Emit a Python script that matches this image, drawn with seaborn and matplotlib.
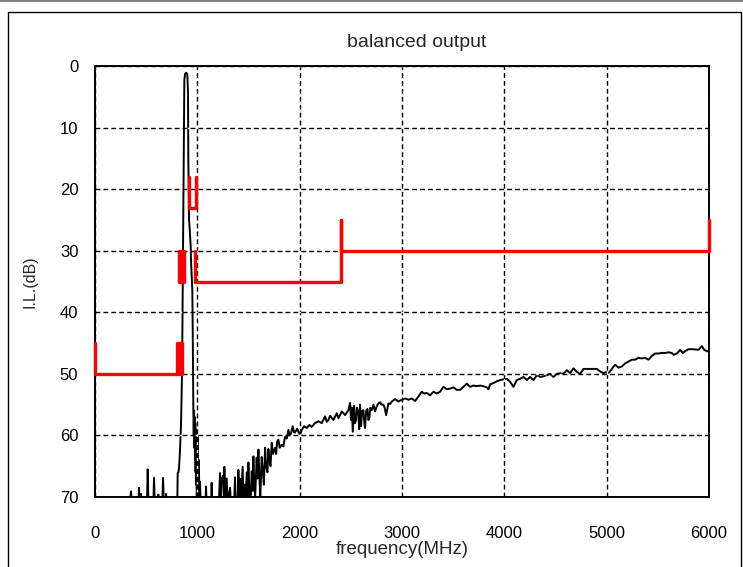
import matplotlib
matplotlib.use("Agg")
import matplotlib.pyplot as plt
import seaborn as sns
import pandas as pd
from matplotlib.patches import Rectangle
from matplotlib.lines import Line2D

# ---------------- data ----------------
trace_freq = [0, 340, 352, 360, 425, 430, 436, 445, 450, 456, 508, 515, 522, 570, 577, 584,
              612, 619, 626, 658, 665, 672, 690, 694, 698, 795, 805, 808, 815, 821, 831, 841,
              851, 857, 863, 870, 873, 880, 890, 902, 909, 912, 919, 926, 935, 938, 945, 951,
              955, 961, 965, 968, 971, 974, 977, 980, 983, 986, 989, 992, 995, 998, 1001, 1005,
              1010, 1015, 1020, 1026, 1032, 1080, 1085, 1090, 1135, 1140, 1146, 1210, 1222, 1230,
              1240, 1255, 1260, 1264, 1272, 1287, 1295, 1320, 1328, 1360, 1368, 1375, 1395, 1401,
              1408, 1415, 1425, 1443, 1450, 1460, 1470, 1483, 1490, 1499, 1508, 1520, 1532, 1540,
              1548, 1556, 1565, 1580, 1588, 1597, 1605, 1615, 1629, 1640, 1650, 1662, 1672, 1685,
              1694, 1705, 1715, 1727, 1740, 1760, 1770, 1780, 1792, 1805, 1825, 1841, 1857, 1874,
              1890, 1900, 1913, 1932, 1945, 1955, 1977, 1990, 2004, 2020, 2043, 2069, 2095, 2118,
              2150, 2183, 2216, 2248, 2265, 2281, 2297, 2330, 2362, 2380, 2411, 2444, 2476, 2493,
              2502, 2510, 2519, 2532, 2540, 2551, 2560, 2574, 2582, 2590, 2600, 2610, 2623, 2632,
              2639, 2650, 2662, 2672, 2681, 2690, 2705, 2721, 2737, 2753, 2769, 2786, 2800, 2818,
              2830, 2845, 2867, 2883, 2900, 2932, 2965, 2998, 3030, 3063, 3096, 3128, 3160, 3193,
              3216, 3242, 3275, 3307, 3340, 3372, 3405, 3438, 3470, 3503, 3535, 3568, 3600, 3633,
              3666, 3698, 3731, 3763, 3796, 3829, 3845, 3861, 3894, 3927, 3959, 3992, 4024, 4057,
              4089, 4122, 4154, 4187, 4220, 4252, 4285, 4318, 4350, 4383, 4415, 4448, 4480, 4513,
              4545, 4578, 4611, 4643, 4676, 4709, 4741, 4774, 4839, 4904, 4936, 4969, 4995, 5018,
              5050, 5083, 5115, 5148, 5181, 5213, 5246, 5278, 5311, 5343, 5376, 5409, 5441, 5474,
              5506, 5538, 5571, 5604, 5636, 5653, 5686, 5718, 5744, 5767, 5800, 5848, 5897, 5930,
              5953, 5979, 6000]
trace_db = [71, 71, 69.1, 71, 71, 68.5, 71, 71, 69.5, 71, 71, 65.5, 71, 71, 66.9, 71,
            71, 69.6, 71, 71, 66.9, 71, 71, 69.5, 71, 71, 69.9, 66.1, 66, 65.3, 62.3, 58,
            49.4, 36.9, 26, 9.9, 2.3, 1.3, 1.1, 1.3, 4.4, 15.3, 25, 26.6, 29.3, 31.5, 34.2, 36.4,
            43, 55.8, 60, 56, 62, 57, 64, 58, 66, 59, 68, 61, 70, 62, 66, 60,
            71, 64, 71, 67.5, 71, 71, 68.3, 71, 71, 67.7, 71, 71, 66.1, 70,
            67, 66.5, 71, 65.1, 71, 67, 71, 68.5, 71, 71, 66.8, 71, 70, 65.6,
            71, 67, 71, 65.1, 71, 68, 71, 66, 71, 64.4, 69, 71, 65.8, 69,
            63.4, 68, 70, 63.6, 67, 62.3, 66, 70, 63.5, 66, 68, 62, 65, 66,
            62.2, 64, 65, 61.2, 63, 62, 63, 61, 60.7, 62, 61.5, 61.8, 60.2, 60.5,
            59.1, 60, 59.8, 58.5, 59.5, 59.5, 58.9, 59.5, 59.9, 59.1, 58.5, 58.8, 58.3, 58.6,
            58, 57.7, 58, 56.9, 57.8, 57.5, 56.8, 57.5, 56.4, 57.2, 56.1, 56.7, 55.9, 54.7,
            57.5, 55.5, 59.4, 55.2, 58, 57.5, 55.5, 56.4, 59, 55, 58.5, 56, 55.9, 58,
            58.8, 56, 55.7, 57.5, 57.2, 55.5, 55.9, 55, 56.1, 55.3, 54.8, 54.6, 55, 55,
            55.5, 56.7, 54.8, 54.9, 54.5, 54.1, 54.5, 54.2, 54, 54.2, 54, 54.4, 53.7, 52.9,
            53.2, 53.1, 53.5, 52.9, 53.2, 52.9, 52.1, 52.5, 52.4, 52.2, 52.6, 52.6, 52.1, 51.6,
            52.1, 51.9, 52, 51.9, 52, 52.2, 52.5, 51.7, 51.5, 51.2, 51, 50.9, 50.8, 51.3,
            52.1, 51, 50.8, 50.5, 51, 50.5, 51, 50.2, 50.5, 50.4, 50.2, 50, 50.5, 50,
            49.9, 50, 49.4, 49.9, 49.1, 49.7, 50, 49.2, 49.2, 49.2, 49.6, 49.9, 49.7, 49.9,
            49.2, 48.5, 49, 48.8, 48.3, 48, 47.7, 47.7, 47.4, 47.5, 47.4, 47.7, 47.1, 46.7,
            46.7, 46.6, 46.6, 46.5, 46.6, 46.9, 46.7, 46.1, 46.6, 46.3, 46, 46, 46.1, 45.5,
            46.1, 46.3, 46.4]

# mask (spec limit) polylines
mask_low_freq = [0, 0, 800, 800, 812, 812, 825, 825, 837, 837, 850, 850]
mask_low_db = [45, 50, 50, 45, 45, 50, 50, 45, 45, 50, 50, 45]
mask_mid_freq = [820, 820, 832, 832, 845, 845, 857, 857, 870, 870]
mask_mid_db = [30, 35, 35, 30, 30, 35, 35, 30, 30, 35]
mask_u_freq = [915, 915, 990, 990]
mask_u_db = [18, 23, 23, 18]
mask_high_freq = [980, 980, 2400, 2400, 2400, 6000, 6000]
mask_high_db = [30, 35, 35, 25, 30, 30, 25]

x_ticks = [0, 1000, 2000, 3000, 4000, 5000, 6000]
y_ticks = [0, 10, 20, 30, 40, 50, 60, 70]

title_text = "balanced output"
x_label = "frequency(MHz)"
y_label = "I.L.(dB)"

# ---------------- plot ----------------
sns.set_style("white")
plt.rcParams['font.family'] = ['Liberation Sans', 'DejaVu Sans']

fig = plt.figure(figsize=(7.43, 5.67), dpi=100)
ax = fig.add_axes([95 / 743, 1 - 497 / 567, (709 - 95) / 743, (497 - 66) / 567])

df_trace = pd.DataFrame({"freq": trace_freq, "db": trace_db})
sns.lineplot(data=df_trace, x="freq", y="db", ax=ax, color="black", linewidth=1.4,
             estimator=None, sort=False, zorder=2)

for fx, fy in [(mask_low_freq, mask_low_db), (mask_mid_freq, mask_mid_db),
               (mask_u_freq, mask_u_db), (mask_high_freq, mask_high_db)]:
    dfm = pd.DataFrame({"freq": fx, "db": fy})
    sns.lineplot(data=dfm, x="freq", y="db", ax=ax, color="#ff0000", linewidth=2.4,
                 estimator=None, sort=False, zorder=6, clip_on=False)

ax.set_xlim(0, 6000)
ax.set_ylim(70, 0)
ax.set_xticks(x_ticks)
ax.set_yticks(y_ticks)
ax.grid(True, color="black", linestyle=(0, (3.5, 2.2)), linewidth=1.0, gapcolor="white", zorder=3)
ax.set_axisbelow(False)
for gl in ax.get_xgridlines() + ax.get_ygridlines():
    gl.set_zorder(3)

ax.tick_params(axis="both", length=0, labelsize=12, colors="black")
ax.tick_params(axis="x", pad=21)
ax.tick_params(axis="y", pad=12)
for sp in ax.spines.values():
    sp.set_color("black")
    sp.set_linewidth(1.4)
    sp.set_zorder(5)

ax.set_title(title_text, fontsize=14, pad=14, x=(417 - 95) / 614)
ax.set_xlabel(x_label, fontsize=13.5, labelpad=0)
ax.set_ylabel(y_label, fontsize=11.5, labelpad=16)

# figure frame
fig.patches.append(Rectangle((8 / 743, -0.1), (741 - 8) / 743, 1.1 - 12 / 567,
                             transform=fig.transFigure, fill=False, edgecolor="black",
                             linewidth=1.0))
fig.lines.append(Line2D([0, 1], [1 - 1 / 567, 1 - 1 / 567], transform=fig.transFigure,
                        color="#808080", linewidth=1.5))

fig.savefig("out.png", dpi=100)
